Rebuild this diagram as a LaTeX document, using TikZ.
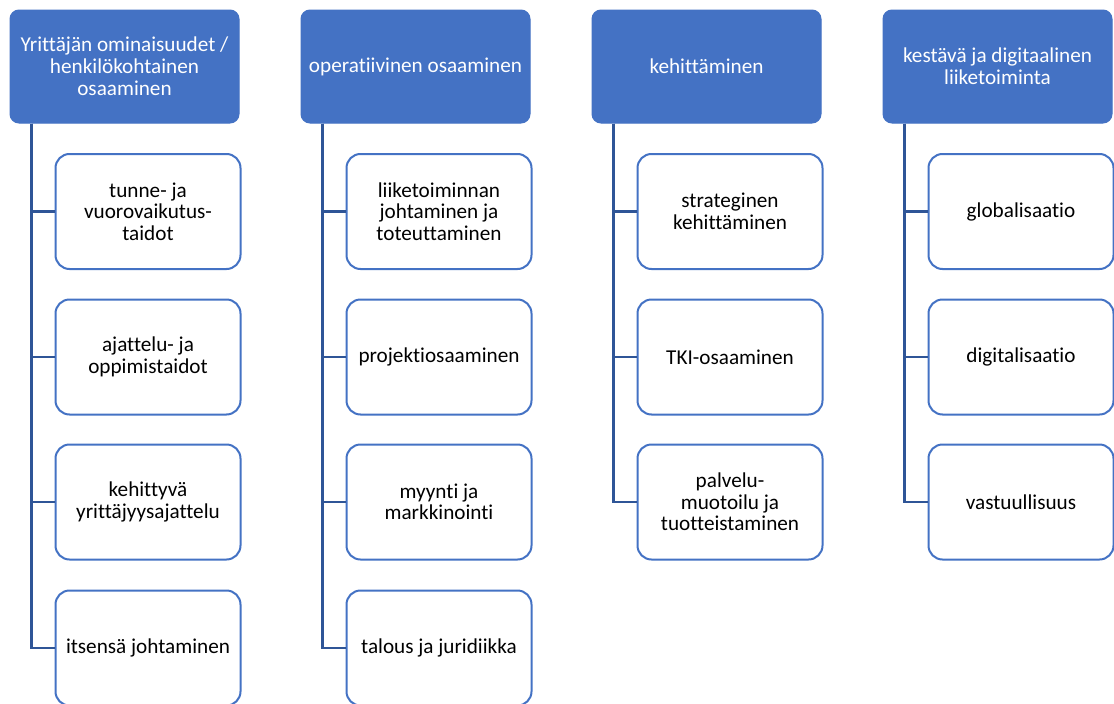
\documentclass[tikz,border=0pt]{standalone}
\usepackage{fontspec}
\setmainfont{Carlito}[Ligatures=NoCommon]
\definecolor{hdr}{HTML}{4472C4}
\definecolor{conn}{HTML}{2F5597}
\begin{document}
\begin{tikzpicture}[x=1pt,y=-1pt,
  hbox/.style={draw=hdr,fill=hdr,line width=1pt,rounded corners=9pt,minimum width=229pt,minimum height=113pt,text=white,align=center,font=\fontsize{21.2}{22}\selectfont,inner sep=2pt},
  cbox/.style={draw=hdr,fill=white,line width=2pt,rounded corners=14pt,minimum width=185pt,minimum height=115pt,text=black,align=center,font=\fontsize{21.2}{21.5}\selectfont,inner sep=2pt},
  link/.style={draw=conn,line width=2.5pt}]
\useasboundingbox (0,0) rectangle (1114,704);
\fill[white] (0,0) rectangle (1114,704);
% headers
\node[hbox] (h1) at (124.5,66.5) {Yrittäjän ominaisuudet /\\henkilökohtainen\\osaaminen};
\node[hbox] (h2) at (415.5,66.5) {operatiivinen osaaminen};
\node[hbox] (h3) at (706.5,66.5) {kehittäminen};
\node[hbox] (h4) at (997.5,66.5) {kestävä ja digitaalinen\\liiketoiminta};
% column 1
\node[cbox] (c11) at (148,211.5) {tunne- ja\\vuorovaikutus-\\taidot};
\node[cbox] (c12) at (148,357) {ajattelu- ja\\oppimistaidot};
\node[cbox] (c13) at (148,502) {kehittyvä\\yrittäjyysajattelu};
\node[cbox] (c14) at (148,648) {itsensä johtaminen};
% column 2
\node[cbox] (c21) at (439,211.5) {liiketoiminnan\\johtaminen ja\\toteuttaminen};
\node[cbox] (c22) at (439,357) {projektiosaaminen};
\node[cbox] (c23) at (439,502) {myynti ja\\markkinointi};
\node[cbox] (c24) at (439,648) {talous ja juridiikka};
% column 3
\node[cbox] (c31) at (730,211.5) {strateginen\\kehittäminen};
\node[cbox] (c32) at (730,357) {TKI-osaaminen};
\node[cbox] (c33) at (730,502) {palvelu-\\muotoilu ja\\tuotteistaminen};
% column 4
\node[cbox] (c41) at (1021,211.5) {globalisaatio};
\node[cbox] (c42) at (1021,357) {digitalisaatio};
\node[cbox] (c43) at (1021,502) {vastuullisuus};
% connectors
\foreach \h/\c in {h1/c11,h1/c12,h1/c13,h1/c14,h2/c21,h2/c22,h2/c23,h2/c24,h3/c31,h3/c32,h3/c33,h4/c41,h4/c42,h4/c43}{
  \draw[link] ([xshift=22pt]\h.south west) |- (\c.west);
}
\end{tikzpicture}
\end{document}
